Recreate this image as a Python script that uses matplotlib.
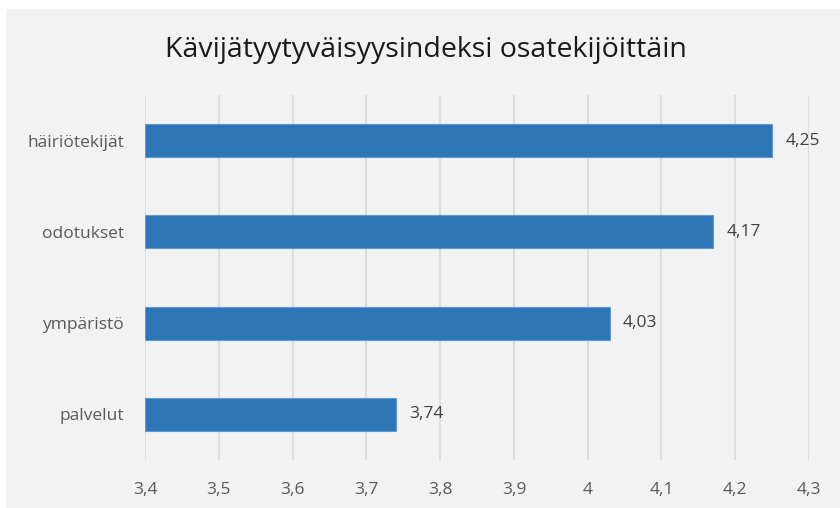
import matplotlib.pyplot as plt
from matplotlib.patches import Rectangle

# Data
categories = ["palvelut", "ympäristö", "odotukset", "häiriötekijät"]
values = [3.74, 4.03, 4.17, 4.25]
xticks = [3.4, 3.5, 3.6, 3.7, 3.8, 3.9, 4.0, 4.1, 4.2, 4.3]
xtick_labels = ["3,4", "3,5", "3,6", "3,7", "3,8", "3,9", "4", "4,1", "4,2", "4,3"]
title = "Kävijätyytyväisyysindeksi osatekijöittäin"

plt.rcParams['font.family'] = ['Open Sans', 'DejaVu Sans']

bg = "#f2f2f2"
fig = plt.figure(figsize=(8.4, 5.08), dpi=100, facecolor="white")
# grey chart area with a thin white margin at top/left
fig.patches.append(Rectangle((6 / 840, 0), 1, 1 - 9 / 508, transform=fig.transFigure,
                             facecolor=bg, edgecolor="none", zorder=-10))

ax = fig.add_axes([145 / 840, 48 / 508, 664 / 840, 365 / 508])
ax.set_facecolor(bg)

y = range(len(categories))
ax.barh(y, [v - 3.4 for v in values], left=3.4, height=0.36,
        color="#2e75b6", edgecolor="#5b9bd5", linewidth=0.8, zorder=3)

for i, v in enumerate(values):
    ax.text(v + 0.018, i, f"{v:.2f}".replace(".", ","), va="center", ha="left",
            fontsize=12.5, color="#404040")

ax.set_xlim(3.4, 4.3)
ax.set_ylim(-0.5, len(categories) - 0.5)
ax.set_xticks(xticks)
ax.set_xticklabels(xtick_labels)
ax.set_yticks(list(y))
ax.set_yticklabels(categories)
ax.tick_params(axis="both", length=0, labelsize=12.5, labelcolor="#595959")
ax.tick_params(axis="x", pad=16)
ax.tick_params(axis="y", pad=15)
ax.grid(axis="x", color="#d9d9d9", linewidth=1.2, zorder=0)
for s in ax.spines.values():
    s.set_visible(False)

fig.text(0.507, 1 - 50 / 508, title, ha="center", va="center", fontsize=20.5, color="#1a1a1a")

fig.savefig("out.png", dpi=100, facecolor="white")
